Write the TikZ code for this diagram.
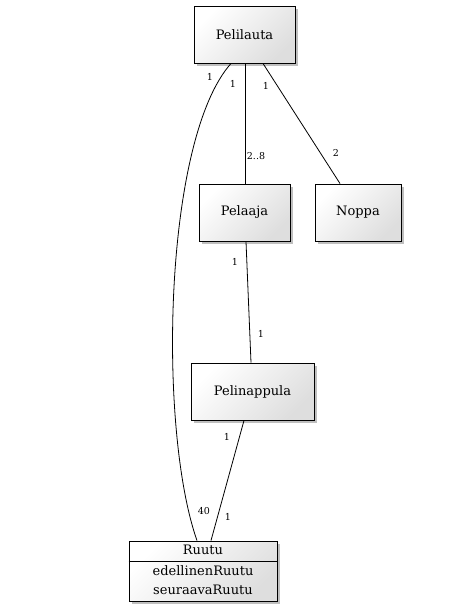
\documentclass[tikz,border=0pt]{standalone}
\usepackage{fontspec}
\setmainfont{DejaVu Serif}
\usetikzlibrary{shadows}
\begin{document}
\begin{tikzpicture}[x=1pt,y=-1pt,
  cls/.style={draw=black, line width=0.9pt, top color=white, bottom color=black!13, shading angle=45,
    drop shadow={shadow xshift=2.5pt, shadow yshift=-2.5pt, opacity=0.25, fill=black},
    inner sep=0pt, font=\fontsize{13}{15}\selectfont},
  txt/.style={font=\fontsize{13}{15}\selectfont, inner sep=0pt},
  conn/.style={draw=black, line width=0.8pt},
  lbl/.style={font=\fontsize{9.5}{11}\selectfont, inner sep=0pt}]
\useasboundingbox (0,0) rectangle (469,611);
\node[cls, minimum width=101pt, minimum height=57pt] (pl) at (244.5,34.5) {Pelilauta};
\node[cls, minimum width=91pt, minimum height=57pt] (pe) at (244.5,212.5) {Pelaaja};
\node[cls, minimum width=86pt, minimum height=57pt] (no) at (358,212.5) {Noppa};
\node[cls, minimum width=123pt, minimum height=57pt] (pn) at (252.5,391.5) {Pelinappula};
\node[cls, minimum width=148pt, minimum height=60pt] (ru) at (203,571) {};
\draw[black, line width=0.7pt] (ru.west |- 0,561) coordinate (rl) -- (ru.east |- 0,561) coordinate (rr);
\node[txt] (rt) at (203,550) {Ruutu};
\node[txt] (ra1) at (203,570.5) {edellinenRuutu};
\node[txt] (ra2) at (203,590) {seuraavaRuutu};
% connectors
\draw[conn] ([xshift=0.5pt]pl.south) -- ([xshift=0.5pt]pe.north);
\draw[conn] ([xshift=18.5pt]pl.south) -- ([xshift=-18pt]no.north);
\draw[conn] ([xshift=-13.5pt]pl.south) .. controls (163,140) and (158,430) .. ([xshift=-6pt]ru.north);
\draw[conn] ([xshift=1.5pt]pe.south) -- ([xshift=-1.5pt]pn.north);
\draw[conn] ([xshift=-8.5pt]pn.south) -- ([xshift=8pt]ru.north);
% labels
\node[lbl] (l1) at (210,77) {1};
\node[lbl] (l2) at (233,84) {1};
\node[lbl] (l3) at (256,156) {2..8};
\node[lbl] (l4) at (266,86) {1};
\node[lbl] (l5) at (336,153) {2};
\node[lbl] (l6) at (235,262) {1};
\node[lbl] (l7) at (261,334) {1};
\node[lbl] (l8) at (227,437) {1};
\node[lbl] (l9) at (228,517) {1};
\node[lbl] (l10) at (204,511) {40};
\end{tikzpicture}
\end{document}
